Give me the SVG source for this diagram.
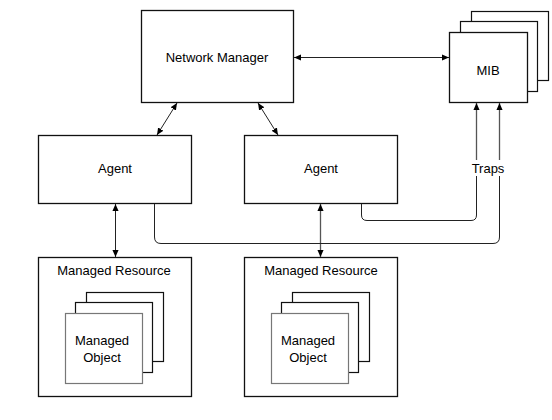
<svg xmlns="http://www.w3.org/2000/svg" width="552" height="420" viewBox="0 0 552 420">
<defs>
<style>
.box{fill:#fff;stroke:#111;stroke-width:1.3}
.fr{fill:#fff;stroke:#777;stroke-width:1.2}
.bk{fill:#fff;stroke:#111;stroke-width:1.2}
.ln{fill:none;stroke:#222;stroke-width:1}
.gl{fill:none;stroke:#555;stroke-width:1.3}
text{font-family:"Liberation Sans",Arial,sans-serif;font-size:13px;fill:#000;text-anchor:middle}
</style>
<marker id="ah" viewBox="0 0 8 8" refX="8" refY="4" markerWidth="7" markerHeight="7" markerUnits="userSpaceOnUse" orient="auto-start-reverse">
<path d="M0,0.5 L8,4 L0,7.5 z" fill="#000"/>
</marker>
</defs>
<rect width="552" height="420" fill="#fff"/>
<g id="network-manager">
<rect class="box" x="141.5" y="10.5" width="152" height="92"/>
<text x="217" y="61.5">Network Manager</text>
</g>
<g id="mib">
<rect class="bk" x="471.5" y="11.5" width="77" height="69"/>
<rect class="bk" x="460.5" y="21.5" width="77" height="70"/>
<rect class="box" x="449.5" y="32.5" width="78" height="70"/>
<text x="488" y="74.5">MIB</text>
</g>
<g id="agent-1">
<rect class="box" x="38.5" y="135.5" width="153" height="68"/>
<text x="115" y="173">Agent</text>
</g>
<g id="agent-2">
<rect class="box" x="244.5" y="135.5" width="153" height="68"/>
<text x="321" y="173">Agent</text>
</g>
<g id="managed-resource-1">
<rect class="box" x="38.5" y="257.5" width="153" height="139"/>
<text x="114" y="274.5">Managed Resource</text>
<rect class="bk" x="86.5" y="292.5" width="77" height="69"/>
<rect class="bk" x="75.5" y="302.5" width="77" height="70"/>
<rect class="fr" x="65.5" y="313.5" width="77" height="70"/>
<text x="102" y="345">Managed</text>
<text x="102" y="362">Object</text>
</g>
<g id="managed-resource-2">
<rect class="box" x="244.5" y="257.5" width="153" height="139"/>
<text x="321" y="274.5">Managed Resource</text>
<rect class="bk" x="292.5" y="292.5" width="77" height="69"/>
<rect class="bk" x="281.5" y="302.5" width="77" height="70"/>
<rect class="fr" x="271.5" y="313.5" width="77" height="70"/>
<text x="308" y="345">Managed</text>
<text x="308" y="362">Object</text>
</g>
<g id="connectors">
<line class="ln" x1="294" y1="57.5" x2="449" y2="57.5" marker-start="url(#ah)" marker-end="url(#ah)"/>
<line class="ln" x1="177" y1="103" x2="157" y2="135" marker-start="url(#ah)" marker-end="url(#ah)"/>
<line class="ln" x1="258" y1="103" x2="278" y2="135" marker-start="url(#ah)" marker-end="url(#ah)"/>
<line class="ln" x1="115.5" y1="204" x2="115.5" y2="257" marker-start="url(#ah)" marker-end="url(#ah)"/>
<line class="gl" x1="320.5" y1="204" x2="320.5" y2="257" marker-start="url(#ah)" marker-end="url(#ah)"/>
<path class="ln" d="M361.5,204 V215 Q361.5,220.5 367,220.5 H471 Q476.5,220.5 476.5,215 V176"/>
<path class="gl" d="M476.5,160 V103" marker-end="url(#ah)"/>
<path class="ln" d="M154.5,204 V237 Q154.5,243.5 161,243.5 H493 Q499.5,243.5 499.5,237 V176"/>
<path class="gl" d="M499.5,160 V103" marker-end="url(#ah)"/>
<text x="488" y="172.5">Traps</text>
</g>
</svg>
